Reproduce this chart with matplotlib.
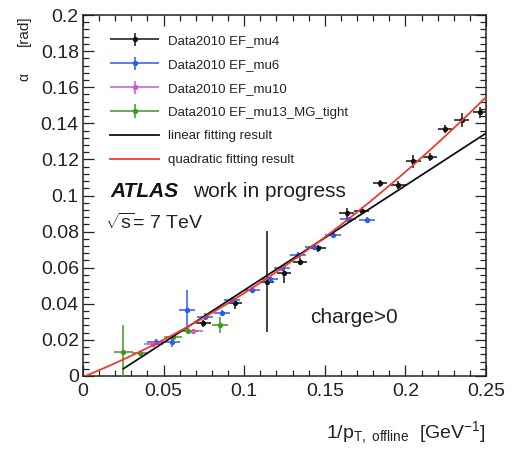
import numpy as np
import matplotlib
matplotlib.use("Agg")
import matplotlib.pyplot as plt
from matplotlib.ticker import MultipleLocator, FuncFormatter
from matplotlib.legend_handler import HandlerErrorbar
from matplotlib.container import ErrorbarContainer

plt.rcParams['font.family'] = ['Liberation Sans', 'DejaVu Sans']
plt.rcParams['mathtext.fontset'] = 'custom'
plt.rcParams['mathtext.rm'] = 'Liberation Sans'
plt.rcParams['mathtext.it'] = 'Liberation Sans:italic'

# EF_mu4 (black)
mu4_x = [0.0747, 0.0943, 0.114, 0.1247, 0.1346, 0.146, 0.1636, 0.1729, 0.1842,
         0.1956, 0.205, 0.2153, 0.2246, 0.2349, 0.2463]
mu4_y = [0.0292, 0.0403, 0.0522, 0.0568, 0.0633, 0.0707, 0.0901, 0.0915, 0.1067,
         0.1058, 0.1190, 0.1213, 0.1368, 0.1418, 0.1462]
mu4_xerr = [0.0045] * len(mu4_x)
mu4_yerr = [0.002, 0.003, 0.028, 0.0055, 0.002, 0.002, 0.003, 0.002, 0.002,
            0.002, 0.0037, 0.002, 0.002, 0.0037, 0.003]

# EF_mu6 (blue)
mu6_x = [0.045, 0.055, 0.0647, 0.0757, 0.086, 0.0922, 0.1046, 0.116, 0.1232,
         0.1336, 0.143, 0.1553, 0.1646, 0.176]
mu6_y = [0.019, 0.019, 0.0366, 0.0329, 0.035, 0.042, 0.0476, 0.0535, 0.060,
         0.067, 0.0716, 0.078, 0.0868, 0.0864]
mu6_xerr = [0.005] * len(mu6_x)
mu6_yerr = [0.0015, 0.003, 0.011, 0.002, 0.0015, 0.0015, 0.0015, 0.0015, 0.0015,
            0.0015, 0.0015, 0.0015, 0.0015, 0.0015]

# EF_mu10 (magenta)
mu10_x = [0.0436, 0.0685]
mu10_y = [0.018, 0.0251]
mu10_xerr = [0.006, 0.006]
mu10_yerr = [0.001, 0.001]

# EF_mu13_MG_tight (green)
mu13_x = [0.025, 0.0354, 0.056, 0.0653, 0.085]
mu13_y = [0.0135, 0.0125, 0.0214, 0.0249, 0.0283]
mu13_xerr = [0.006, 0.005, 0.0057, 0.006, 0.005]
mu13_yerr = [0.0145, 0.001, 0.0015, 0.0015, 0.0046]

# fit results
lin_coef = [0.58, -0.0105]          # slope, intercept
lin_range = [0.025, 0.25]
quad_coef = [1.04, 0.36, -0.0005]   # a2, a1, a0
quad_range = [0.0, 0.25]

fig = plt.figure(figsize=(5.13, 4.54), dpi=100)
ax = fig.add_axes([83/513, 1 - 376/454, 403/513, 361/454])

series = [
    (mu4_x, mu4_y, mu4_xerr, mu4_yerr, '#111111', 'Data2010 EF_mu4'),
    (mu6_x, mu6_y, mu6_xerr, mu6_yerr, '#2b5bf5', 'Data2010 EF_mu6'),
    (mu10_x, mu10_y, mu10_xerr, mu10_yerr, '#cc55d8', 'Data2010 EF_mu10'),
    (mu13_x, mu13_y, mu13_xerr, mu13_yerr, '#3d9a1e', 'Data2010 EF_mu13_MG_tight'),
]
handles = []
for xs, ys, xe, ye, col, lab in series:
    h = ax.errorbar(xs, ys, xerr=xe, yerr=ye, fmt='o', ms=2.8, color=col, ecolor=col,
                    elinewidth=1.1, capsize=0, label=lab, zorder=3)
    handles.append(h)

xl = np.linspace(*lin_range, 50)
h, = ax.plot(xl, np.polyval(lin_coef, xl), color='#111111', lw=1.3,
             label='linear fitting result', zorder=4)
handles.append(h)
xq = np.linspace(*quad_range, 200)
h, = ax.plot(xq, np.polyval(quad_coef, xq), color='#f03a30', lw=1.3,
             label='quadratic fitting result', zorder=4)
handles.append(h)

ax.set_xlim(0, 0.25)
ax.set_ylim(0, 0.2)
ax.xaxis.set_major_locator(MultipleLocator(0.05))
ax.xaxis.set_minor_locator(MultipleLocator(0.01))
ax.yaxis.set_major_locator(MultipleLocator(0.02))
ax.yaxis.set_minor_locator(MultipleLocator(0.004))
fmt = FuncFormatter(lambda v, p: '%g' % round(v, 4))
ax.xaxis.set_major_formatter(fmt)
ax.yaxis.set_major_formatter(fmt)
ax.tick_params(which='both', direction='in', top=True, right=True,
               width=0.9, labelsize=14, colors='#222222')
ax.tick_params(which='major', length=8)
ax.tick_params(which='minor', length=4)
ax.tick_params(axis='x', which='major', pad=5)
ax.tick_params(axis='y', which='major', pad=3)
for s in ax.spines.values():
    s.set_linewidth(1.1)
    s.set_color('#222222')

leg = ax.legend(handles=handles, labels=[hh.get_label() for hh in handles],
                loc='upper left', bbox_to_anchor=(0.068, 0.945), frameon=False,
                fontsize=9.5, handlelength=3.7, handletextpad=0.7,
                labelspacing=0.88, borderpad=0, borderaxespad=0,
                handler_map={ErrorbarContainer: HandlerErrorbar(xerr_size=1.85,
                                                                yerr_size=0.5)})
for t in leg.get_texts():
    t.set_color('#222222')

ax.text(0.067, 0.51, 'ATLAS', transform=ax.transAxes, fontsize=15,
        fontweight='bold', fontstyle='italic', va='center', ha='left',
        color='#111111')
ax.text(0.273, 0.51, 'work in progress', transform=ax.transAxes, fontsize=15,
        va='center', ha='left', color='#222222')
ax.text(0.055, 0.424, r'$\sqrt{\mathrm{s}}$= 7 TeV', transform=ax.transAxes,
        fontsize=14, va='center', ha='left', color='#222222')
ax.text(0.563, 0.163, 'charge>0', transform=ax.transAxes, fontsize=15,
        va='center', ha='left', color='#222222')

fig.text(24/513, 1 - 15/454, '[rad]', rotation=90, ha='center', va='top',
         fontsize=11, color='#222222')
fig.text(24/513, 1 - 77/454, 'α', rotation=90, ha='center', va='center',
         fontsize=10, color='#222222')
fig.text(486/513, 1 - 438/454,
         r'1/p$_{\mathrm{T,\ offline}}$  [GeV$^{\mathrm{-1}}$]',
         ha='right', va='baseline', fontsize=14, color='#222222')

fig.savefig('out.png', dpi=100)
